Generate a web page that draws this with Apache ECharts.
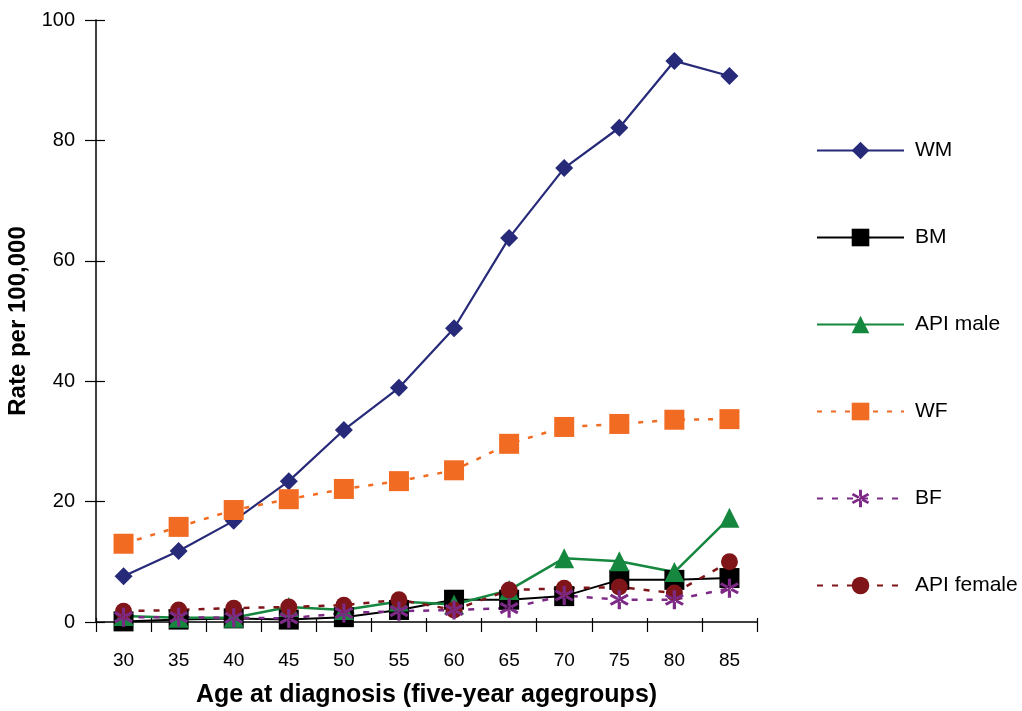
<!DOCTYPE html>
<html>
<head>
<meta charset="utf-8">
<script src="https://cdn.jsdelivr.net/npm/echarts@6/dist/echarts.min.js"></script>
<style>html,body{margin:0;padding:0;background:#fff}#c{width:1022px;height:711px}</style>
</head>
<body>
<div id="c"></div>
<script>
const categories = ['30','35','40','45','50','55','60','65','70','75','80','85'];
const WM = [7.6, 11.8, 16.8, 23.4, 31.9, 38.9, 48.8, 63.8, 75.4, 82.1, 93.2, 90.7];
const BM = [0.1, 0.4, 0.6, 0.4, 0.8, 2.0, 3.7, 3.7, 4.3, 7.0, 7.0, 7.3];
const APImale = [1.0, 0.7, 0.7, 2.5, 2.0, 3.4, 2.9, 5.3, 10.6, 10.1, 8.3, 17.3];
const WF = [13.0, 15.8, 18.6, 20.4, 22.1, 23.4, 25.2, 29.6, 32.4, 32.9, 33.6, 33.7];
const BF = [0.8, 0.8, 0.7, 0.6, 1.5, 1.8, 2.0, 2.3, 4.4, 3.7, 3.7, 5.6];
const APIfemale = [1.8, 2.0, 2.3, 2.5, 2.8, 3.7, 2.0, 5.3, 5.6, 5.8, 4.8, 10.0];
const yTicks = [0, 20, 40, 60, 80, 100];

const starPath = 'path://M-1.6,-10 L1.6,-10 L1.6,10 L-1.6,10 Z M7.86,6.39 L9.46,3.61 L-7.86,-6.39 L-9.46,-3.61 Z M-7.86,6.39 L-9.46,3.61 L7.86,-6.39 L9.46,-3.61 Z';

const chart = echarts.init(document.getElementById('c'), null, {renderer: 'canvas'});
const font = 'Liberation Sans, Arial, sans-serif';
const axisLine = {show: true, lineStyle: {color: '#000', width: 1.5}};

function mk(name, data, color, symbol, size, lineType, width) {
  return {
    name, type: 'line', data, symbol, symbolSize: size, showSymbol: true,
    lineStyle: {color, width, type: lineType},
    itemStyle: {color, borderWidth: 0},
    emphasis: {disabled: true}
  };
}

chart.setOption({
  animation: false,
  grid: {left: 96, right: 265, top: 20, bottom: 89, containLabel: false, outerBoundsMode: 'none'},
  legend: {
    orient: 'vertical', left: 811, top: 135,
    itemWidth: 87, itemHeight: 22, itemGap: 66,
    textStyle: {fontFamily: font, fontSize: 21, color: '#000', padding: [0, 0, 0, 6]},
    data: ['WM', 'BM', 'API male', 'WF', 'BF', 'API female']
  },
  xAxis: [{
    type: 'category', data: categories, boundaryGap: true,
    axisLine, axisTick: {show: true, length: 10, lineStyle: {color: '#000', width: 1.2}},
    axisLabel: {fontFamily: font, fontSize: 19, color: '#000', margin: 29},
    splitLine: {show: false},
    name: 'Age at diagnosis (five-year agegroups)', nameLocation: 'middle', nameGap: 61,
    nameTextStyle: {fontFamily: font, fontSize: 25, fontWeight: 'bold', color: '#000'}
  }, {
    type: 'category', data: categories, boundaryGap: true, position: 'bottom',
    axisLine: {show: false}, axisTick: {show: true, inside: true, length: 4, lineStyle: {color: '#000', width: 1.2}},
    axisLabel: {show: false}, splitLine: {show: false}
  }],
  yAxis: [{
    type: 'value', min: 0, max: 100, interval: 20,
    axisLine, axisTick: {show: true, length: 11, lineStyle: {color: '#000', width: 1.2}},
    axisLabel: {fontFamily: font, fontSize: 20, color: '#000', margin: 21},
    splitLine: {show: false},
    name: 'Rate per 100,000', nameLocation: 'middle', nameGap: 61,
    nameTextStyle: {fontFamily: font, fontSize: 24, fontWeight: 'bold', color: '#000'}
  }, {
    type: 'value', min: 0, max: 100, interval: 20, position: 'left', offset: 0,
    axisLine: {show: false}, axisTick: {show: true, inside: true, length: 9, lineStyle: {color: '#000', width: 1.2}},
    axisLabel: {show: false}, splitLine: {show: false}
  }],
  series: [
    mk('WM', WM, '#262a78', 'diamond', 18, 'solid', 2.2),
    mk('BM', BM, '#000000', 'rect', 20, 'solid', 2),
    mk('API male', APImale, '#15873f', 'triangle', 20, 'solid', 2.5),
    mk('WF', WF, '#f26b22', 'rect', 20, [5, 9], 2.5),
    mk('API female', APIfemale, '#7f1518', 'circle', 17, [6, 9], 2.5),
    mk('BF', BF, '#7c2a86', starPath, 19, [6, 9], 2.5)
  ]
});
</script>
</body>
</html>
